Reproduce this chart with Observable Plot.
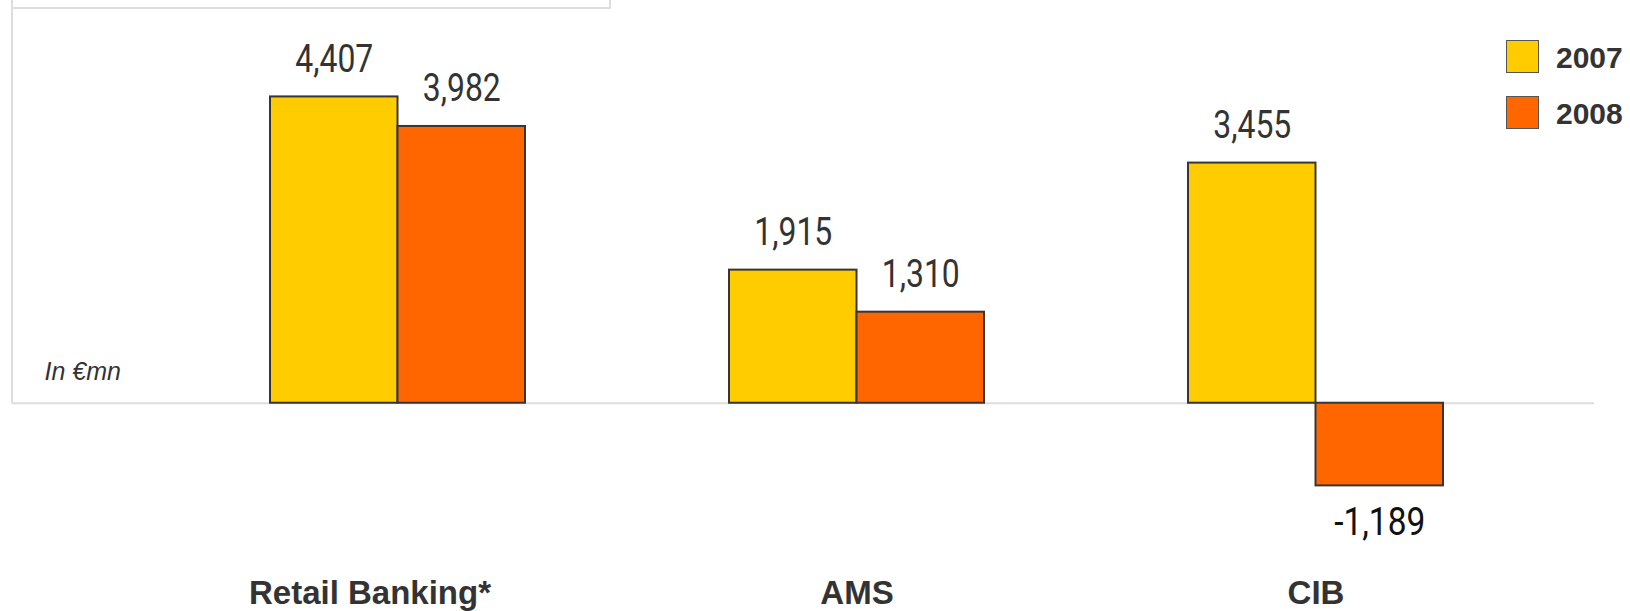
<!DOCTYPE html>
<html>
<head>
<meta charset="utf-8">
<script src="https://cdn.jsdelivr.net/npm/d3@7"></script>
<script src="https://cdn.jsdelivr.net/npm/@observablehq/plot@0.6"></script>
<style>
  html, body { margin: 0; padding: 0; background: #fff; overflow: hidden; }
  #wrap { position: relative; width: 1630px; height: 611px; }
  #wrap svg { position: absolute; left: 0; top: 0; overflow: visible; }
  .deco { position: absolute; background: #dddddd; }
  .legend { position: absolute; left: 1506px; font-family: "Liberation Sans", Arial, sans-serif;
            font-weight: bold; font-size: 30px; color: #333; }
  .legend .row { position: absolute; left: 0; white-space: nowrap; }
  .legend .sw { position: absolute; left: 0; top: 0; width: 33px; height: 33px; box-sizing: border-box;
                border: 1.5px solid #555; }
  .legend .lab { position: absolute; left: 50px; top: 0px; line-height: 35px; }
</style>
</head>
<body>
<div id="wrap">
  <div class="deco" style="left:11px; top:0; width:2px; height:403px;"></div>
  <div class="deco" style="left:11px; top:7px; width:600px; height:2px;"></div>
  <div class="deco" style="left:609px; top:0; width:2px; height:9px;"></div>
  <div id="chart"></div>
  <div class="legend" id="legend"></div>
</div>
<script>
// Net income by business line, in € millions
const categories = ["Retail Banking*", "AMS", "CIB"];
const years = ["2007", "2008"];
const values2007 = [4407, 1915, 3455];
const values2008 = [3982, 1310, -1189];
const yearColors = ["#FFCC00", "#FF6600"];
const unitNote = "In €mn";

const rows = categories.flatMap((category, i) => [
  {category, year: years[0], value: values2007[i]},
  {category, year: years[1], value: values2008[i]}
]);
const rows2007 = rows.filter(d => d.year === years[0]);
const rows2008 = rows.filter(d => d.year === years[1]);

// thousands separator, plain hyphen for negatives
const fmt = v => (v < 0 ? "-" : "") + d3.format(",")(Math.abs(v));
const half = 127.5;           // each year's bar takes half of the category band
const valueFont = "Roboto, 'Liberation Sans', sans-serif";
const negFont = "Roboto, 'DejaVu Sans', sans-serif";
const labelFont = "'Liberation Sans', Arial, sans-serif";

const chart = Plot.plot({
  width: 1630,
  height: 611,
  marginLeft: 12,
  marginRight: 36,
  marginTop: 55.2,
  marginBottom: 104,
  x: {domain: categories, paddingInner: 0.445, paddingOuter: 0.444, align: 0.63, axis: null},
  y: {domain: [-1500, 5000], axis: null},
  color: {domain: years, range: yearColors},
  marks: [
    Plot.ruleY([0], {stroke: "#dddddd", strokeWidth: 2}),
    Plot.barY(rows2007, {x: "category", y: "value", fill: "year", stroke: "#363636", strokeWidth: 2, insetRight: half}),
    Plot.barY(rows2008, {x: "category", y: "value", fill: "year", stroke: "#363636", strokeWidth: 2, insetLeft: half}),
    Plot.text(rows2007, {x: "category", y: "value", text: d => fmt(d.value), dx: -half / 2, dy: -25,
      lineAnchor: "bottom", fontSize: 38, fontFamily: valueFont, fill: "#333"}),
    Plot.text(rows2008.filter(d => d.value >= 0), {x: "category", y: "value", text: d => fmt(d.value), dx: half / 2, dy: -25,
      lineAnchor: "bottom", fontSize: 38, fontFamily: valueFont, fill: "#333"}),
    Plot.text(rows2008.filter(d => d.value < 0), {x: "category", y: "value", text: d => fmt(d.value), dx: half / 2, dy: 22,
      lineAnchor: "top", fontSize: 38, fontFamily: negFont, fill: "#111"}),
    Plot.text(categories.slice(0, 1), {x: d => d, frameAnchor: "bottom", lineAnchor: "bottom", dy: 96, dx: -28,
      fontSize: 33, fontWeight: "bold", fontFamily: labelFont, fill: "#333"}),
    Plot.text(categories.slice(1), {x: d => d, frameAnchor: "bottom", lineAnchor: "bottom", dy: 96,
      fontSize: 33, fontWeight: "bold", fontFamily: labelFont, fill: "#333"}),
    Plot.text([unitNote], {frameAnchor: "left", y: 0, dx: 32, dy: -23, lineAnchor: "bottom", textAnchor: "start",
      fontSize: 25, fontStyle: "italic", fontFamily: labelFont, fill: "#333"})
  ]
});
document.getElementById("chart").appendChild(chart);

// narrow the value labels to a condensed look
function condense(family, ratio) {
  chart.querySelectorAll("g[font-family] text").forEach(t => {
    if (t.parentNode.getAttribute("font-family") !== family) return;
    const w = t.getComputedTextLength();
    if (!(w > 0)) return;
    t.setAttribute("textLength", (w * ratio).toFixed(1));
    t.setAttribute("lengthAdjust", "spacingAndGlyphs");
  });
}
condense(valueFont, 0.84);
condense(negFont, 0.88);

// Year legend in the upper right corner
const legend = document.getElementById("legend");
years.forEach((y, i) => {
  const row = document.createElement("div");
  row.className = "row";
  row.style.top = (40 + i * 55.5) + "px";
  row.innerHTML = `<div class="sw" style="background:${yearColors[i]}"></div><div class="lab">${y}</div>`;
  legend.appendChild(row);
});
</script>
</body>
</html>
